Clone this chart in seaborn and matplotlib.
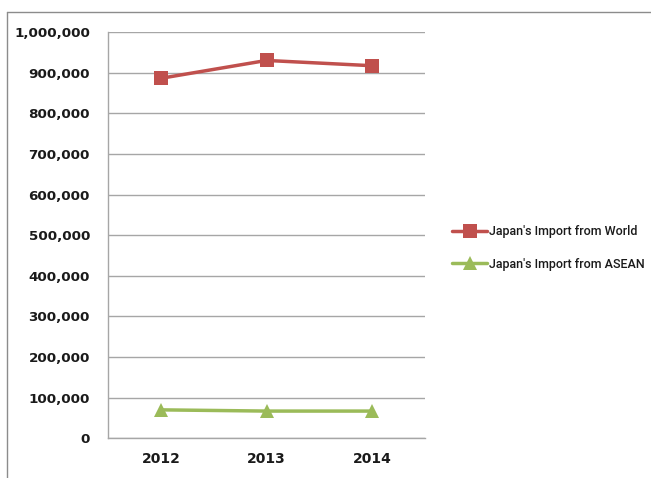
import matplotlib
matplotlib.use("Agg")
import matplotlib.pyplot as plt
import seaborn as sns
import pandas as pd
from matplotlib.lines import Line2D
from matplotlib.ticker import FuncFormatter

years = ["2012", "2013", "2014"]
world = [886000, 930000, 917000]
asean = [70000, 67000, 67000]
series_names = ["Japan's Import from World", "Japan's Import from ASEAN"]

df = pd.DataFrame({
    "year": years * 2,
    "value": world + asean,
    "series": [series_names[0]] * 3 + [series_names[1]] * 3,
})

sns.set_style("white")
plt.rcParams['font.family'] = ['DejaVu Sans']

fig = plt.figure(figsize=(6.51, 4.78), dpi=100)
ax = fig.add_axes([108/651, 1 - 438.3/478, (425-108)/651, (438.3-32)/478])

palette = {series_names[0]: "#C0504D", series_names[1]: "#9BBB59"}
markers = {series_names[0]: "s", series_names[1]: "^"}
sns.lineplot(data=df, x="year", y="value", hue="series", style="series",
             palette=palette, markers=markers, dashes=False, markersize=10.5,
             linewidth=2.5, markeredgewidth=0, ax=ax, sort=False)

ax.set_xlim(-0.5, 2.5)
ax.set_ylim(0, 1000000)
ax.set_yticks(range(0, 1000001, 100000))
ax.yaxis.set_major_formatter(FuncFormatter(lambda v, p: f"{int(v):,}"))
ax.grid(axis="y", color="#A6A6A6", linewidth=1)
ax.set_axisbelow(True)
ax.set_xlabel("")
ax.set_ylabel("")

for s in ["top", "right"]:
    ax.spines[s].set_visible(False)
for s in ["left", "bottom"]:
    ax.spines[s].set_color("#A6A6A6")
    ax.spines[s].set_linewidth(1)

ax.set_xticks([0, 1, 2])
ax.set_xticks([-0.5, 0.5, 1.5, 2.5], minor=True)
ax.tick_params(axis="x", which="major", length=0, pad=10, labelsize=10)
ax.tick_params(axis="x", which="minor", length=5, color="#A6A6A6", direction="out")
ax.tick_params(axis="y", length=5, color="#A6A6A6", direction="out", pad=8, labelsize=9.7)
for t in ax.get_xticklabels() + ax.get_yticklabels():
    t.set_fontweight("bold")
    t.set_color("#1a1a1a")

leg = ax.legend(loc="center left", bbox_to_anchor=(441/651, 1 - 248/478),
                bbox_transform=fig.transFigure, frameon=False,
                prop={"family": ["Roboto", "DejaVu Sans"], "size": 9.0, "weight": "medium"},
                handlelength=2.8, handletextpad=0.15, labelspacing=1.55)
for txt in leg.get_texts():
    txt.set_color("#1a1a1a")

fig.add_artist(Line2D([7/651, 7/651], [0, 1 - 12/478], transform=fig.transFigure,
                      color="#8C8C8C", linewidth=1))
fig.add_artist(Line2D([7/651, 1], [1 - 12/478, 1 - 12/478], transform=fig.transFigure,
                      color="#8C8C8C", linewidth=1))

fig.savefig("out.png", dpi=100)
